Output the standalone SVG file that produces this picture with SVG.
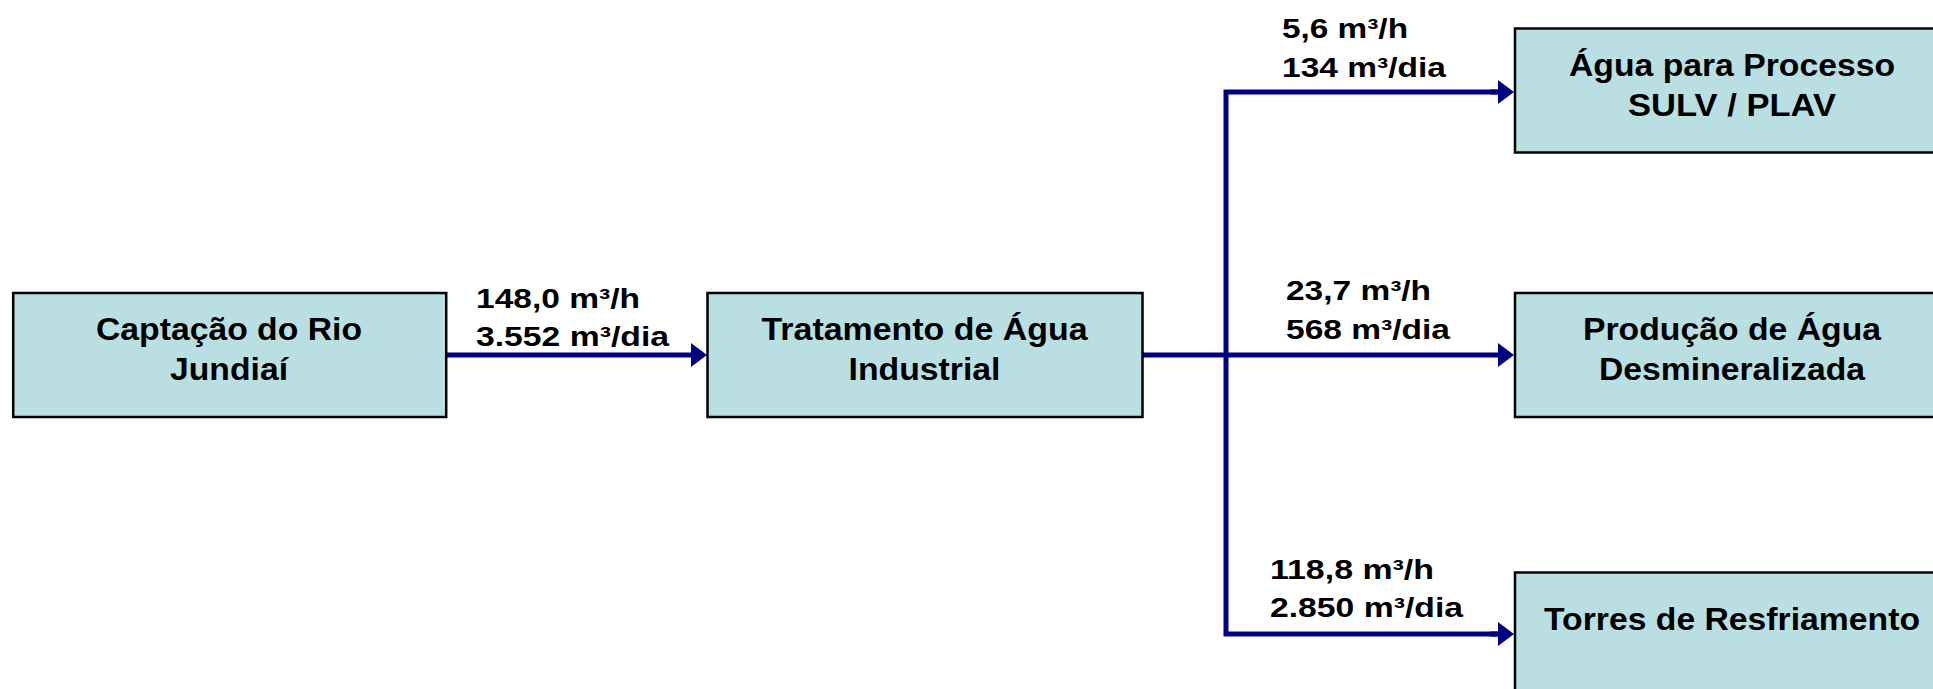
<svg xmlns="http://www.w3.org/2000/svg" width="1933" height="689" viewBox="0 0 1933 689">
<defs>
<style>
.box{fill:#B9DFE3;stroke:#000;stroke-width:2.5}
.bt{font-family:"Liberation Sans",Arial,sans-serif;font-weight:bold;font-size:31px;fill:#000}
.lb{font-family:"Liberation Sans",Arial,sans-serif;font-weight:bold;font-size:28px;fill:#000}
.ln{fill:none;stroke:#000080;stroke-width:5}
</style>
<marker id="ah" markerUnits="userSpaceOnUse" markerWidth="16" markerHeight="24" refX="0" refY="12" orient="auto" viewBox="0 0 16 24">
<path d="M0,0 L16,12 L0,24 Z" fill="#000080"/>
</marker>
</defs>
<rect width="1933" height="689" fill="#fff"/>
<g id="connectors">
<line class="ln" x1="446" y1="355" x2="691" y2="355" marker-end="url(#ah)"/>
<line class="ln" x1="1143" y1="355" x2="1498" y2="355" marker-end="url(#ah)"/>
<path class="ln" d="M1498,92 H1226 V634 H1498"/>
<line class="ln" x1="1490" y1="92" x2="1498" y2="92" marker-end="url(#ah)"/>
<line class="ln" x1="1490" y1="634" x2="1498" y2="634" marker-end="url(#ah)"/>
<text class="lb" x="476" y="308" textLength="164" lengthAdjust="spacingAndGlyphs">148,0 m³/h</text>
<text class="lb" x="476" y="346" textLength="193" lengthAdjust="spacingAndGlyphs">3.552 m³/dia</text>
<text class="lb" x="1282" y="38" textLength="126" lengthAdjust="spacingAndGlyphs">5,6 m³/h</text>
<text class="lb" x="1282" y="77" textLength="164" lengthAdjust="spacingAndGlyphs">134 m³/dia</text>
<text class="lb" x="1286" y="300" textLength="145" lengthAdjust="spacingAndGlyphs">23,7 m³/h</text>
<text class="lb" x="1286" y="339" textLength="164" lengthAdjust="spacingAndGlyphs">568 m³/dia</text>
<text class="lb" x="1270" y="579" textLength="164" lengthAdjust="spacingAndGlyphs">118,8 m³/h</text>
<text class="lb" x="1270" y="617" textLength="193" lengthAdjust="spacingAndGlyphs">2.850 m³/dia</text>
</g>
<g id="captacao">
<rect class="box" x="13.2" y="293" width="433" height="124"/>
<text class="bt" x="96" y="340" textLength="266" lengthAdjust="spacingAndGlyphs">Captação do Rio</text>
<text class="bt" x="170" y="380" textLength="118" lengthAdjust="spacingAndGlyphs">Jundiaí</text>
</g>
<g id="tratamento">
<rect class="box" x="707.5" y="293" width="435" height="124"/>
<text class="bt" x="761.5" y="340" textLength="326" lengthAdjust="spacingAndGlyphs">Tratamento de Água</text>
<text class="bt" x="848.5" y="380" textLength="152" lengthAdjust="spacingAndGlyphs">Industrial</text>
</g>
<g id="processo">
<rect class="box" x="1515" y="28.5" width="436" height="124"/>
<text class="bt" x="1569" y="76" textLength="326" lengthAdjust="spacingAndGlyphs">Água para Processo</text>
<text class="bt" x="1628" y="116" textLength="208" lengthAdjust="spacingAndGlyphs">SULV / PLAV</text>
</g>
<g id="desmineralizada">
<rect class="box" x="1515" y="293" width="436" height="124"/>
<text class="bt" x="1583" y="340" textLength="298" lengthAdjust="spacingAndGlyphs">Produção de Água</text>
<text class="bt" x="1599" y="380" textLength="266" lengthAdjust="spacingAndGlyphs">Desmineralizada</text>
</g>
<g id="torres">
<rect class="box" x="1515" y="572.5" width="436" height="124"/>
<text class="bt" x="1544" y="630" textLength="376" lengthAdjust="spacingAndGlyphs">Torres de Resfriamento</text>
</g>
</svg>
